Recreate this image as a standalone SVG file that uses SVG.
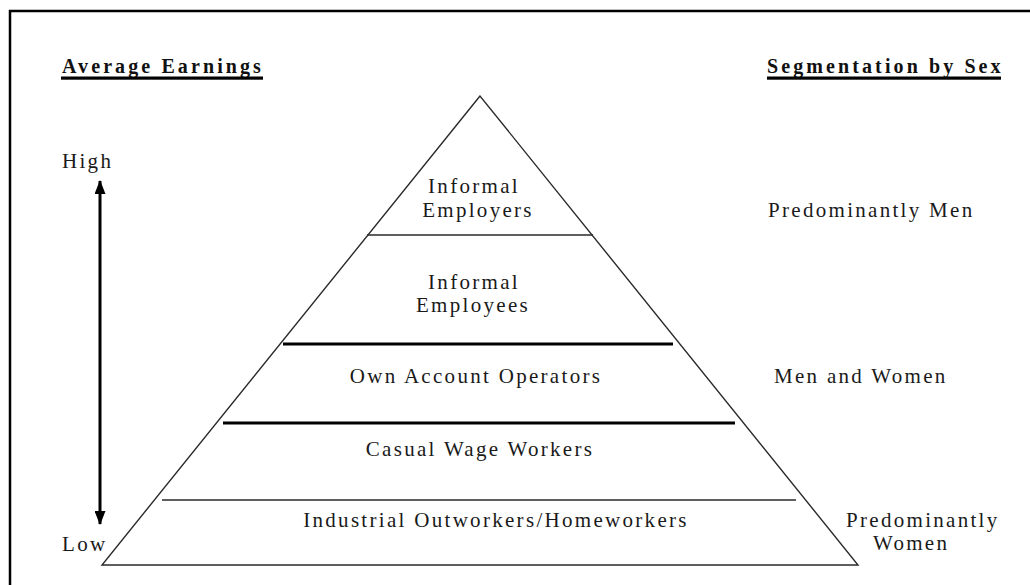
<svg xmlns="http://www.w3.org/2000/svg" width="1030" height="585" viewBox="0 0 1030 585">
  <defs>
    <style>
      .t { font-family: "Liberation Serif", "Times New Roman", serif; font-size: 21px; letter-spacing: 2.3px; fill: #1a1a1a; }
      .h { font-family: "Liberation Serif", "Times New Roman", serif; font-size: 20px; font-weight: bold; letter-spacing: 3.1px; fill: #111; }
      .c { text-anchor: middle; }
      .edge { fill: none; stroke: #2a2a2a; stroke-width: 1.4; stroke-linejoin: miter; }
      .thin { stroke: #2a2a2a; stroke-width: 1.6; }
      .thick { stroke: #000; stroke-width: 3; }
      .ul { fill: #000; }
    </style>
    <marker id="ah" viewBox="0 0 14 11" refX="13" refY="5.5" markerWidth="14" markerHeight="11" markerUnits="userSpaceOnUse" orient="auto">
      <path d="M0,0 L14,5.5 L0,11 Z" fill="#000"/>
    </marker>
  </defs>
  <rect width="1030" height="585" fill="#fff"/>
  <path d="M10,600 L10,11 L1040,11" fill="none" stroke="#000" stroke-width="2.5"/>

  <g id="heading-earnings">
    <text class="h" x="62" y="73">Average Earnings</text>
    <rect class="ul" x="61" y="76.5" width="202" height="3.2"/>
  </g>
  <g id="heading-sex">
    <text class="h" x="767" y="73">Segmentation by Sex</text>
    <rect class="ul" x="767" y="76.5" width="234" height="3.2"/>
  </g>

  <g id="pyramid">
    <path class="edge" d="M480,96 L102,565 L858,565 Z"/>
  </g>

  <g id="layer-employers">
    <line class="thin" x1="367" y1="235" x2="593" y2="235"/>
    <text class="t c" x="474" y="193">Informal</text>
    <text class="t c" x="478" y="217">Employers</text>
  </g>
  <g id="layer-employees">
    <line class="thick" x1="283" y1="344" x2="673" y2="344"/>
    <text class="t c" x="474" y="289">Informal</text>
    <text class="t c" x="473" y="312">Employees</text>
  </g>
  <g id="layer-own-account">
    <line class="thick" x1="223" y1="423" x2="735" y2="423"/>
    <text class="t c" x="476" y="383">Own Account Operators</text>
  </g>
  <g id="layer-casual">
    <line class="thin" x1="162" y1="500" x2="796" y2="500"/>
    <text class="t c" x="480" y="456">Casual Wage Workers</text>
  </g>
  <g id="layer-outworkers">
    <text class="t c" x="496" y="527">Industrial Outworkers/Homeworkers</text>
  </g>

  <g id="label-high">
    <text class="t" x="62" y="168">High</text>
  </g>
  <g id="label-low">
    <text class="t" x="62" y="551">Low</text>
  </g>

  <g id="seg-men">
    <text class="t" x="768" y="217">Predominantly Men</text>
  </g>
  <g id="seg-both">
    <text class="t" x="774" y="383">Men and Women</text>
  </g>
  <g id="seg-women">
    <text class="t" x="846" y="527">Predominantly</text>
    <text class="t" x="873" y="550">Women</text>
  </g>

  <g id="connectors">
    <line x1="100" y1="352" x2="100" y2="181" stroke="#000" stroke-width="3" marker-end="url(#ah)"/>
    <line x1="100" y1="352" x2="100" y2="524" stroke="#000" stroke-width="3" marker-end="url(#ah)"/>
  </g>
</svg>
